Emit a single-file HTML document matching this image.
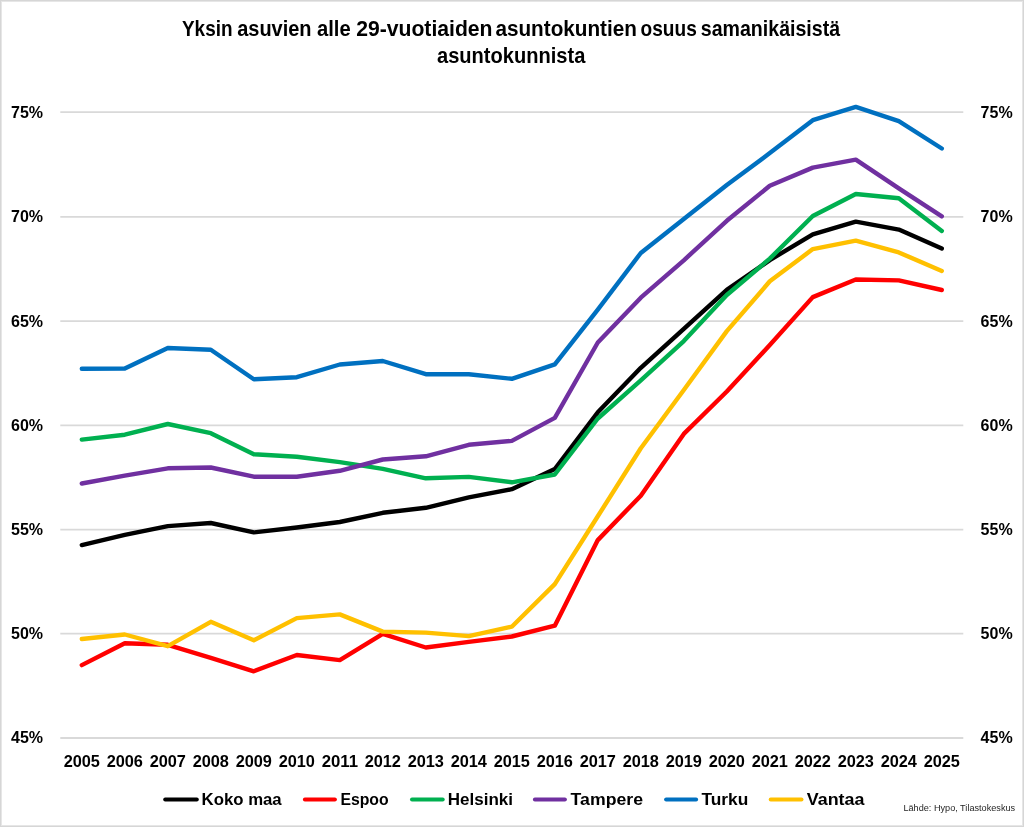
<!DOCTYPE html>
<html><head><meta charset="utf-8"><style>
html,body{margin:0;padding:0;background:#fff;width:1024px;height:827px;overflow:hidden}
svg{display:block;will-change:transform}
text{font-family:"Liberation Sans",sans-serif;fill:#000}
.ax{font-size:16px;font-weight:bold}
.lg{font-size:16.5px;font-weight:bold}
.tt{font-size:21.8px;font-weight:bold}
.src{font-size:9.5px;fill:#262626}
</style></head><body>
<svg width="1024" height="827" viewBox="0 0 1024 827">
<rect x="0" y="0" width="1024" height="827" fill="#fff"/>
<rect x="1.5" y="1.5" width="1021" height="824" fill="none" stroke="#e6e6e6" stroke-width="1"/>
<rect x="0.5" y="0.5" width="1023" height="826" fill="none" stroke="#d6d6d6" stroke-width="1"/>
<line x1="60.3" y1="112.20" x2="963.3" y2="112.20" stroke="#d9d9d9" stroke-width="1.8"/>
<line x1="60.3" y1="216.90" x2="963.3" y2="216.90" stroke="#d9d9d9" stroke-width="1.8"/>
<line x1="60.3" y1="321.20" x2="963.3" y2="321.20" stroke="#d9d9d9" stroke-width="1.8"/>
<line x1="60.3" y1="425.40" x2="963.3" y2="425.40" stroke="#d9d9d9" stroke-width="1.8"/>
<line x1="60.3" y1="529.60" x2="963.3" y2="529.60" stroke="#d9d9d9" stroke-width="1.8"/>
<line x1="60.3" y1="633.70" x2="963.3" y2="633.70" stroke="#d9d9d9" stroke-width="1.8"/>
<line x1="60.3" y1="738.00" x2="963.3" y2="738.00" stroke="#d9d9d9" stroke-width="1.8"/>
<text x="43.1" y="117.60" text-anchor="end" class="ax">75%</text>
<text x="980.6" y="117.60" class="ax">75%</text>
<text x="43.1" y="222.30" text-anchor="end" class="ax">70%</text>
<text x="980.6" y="222.30" class="ax">70%</text>
<text x="43.1" y="326.60" text-anchor="end" class="ax">65%</text>
<text x="980.6" y="326.60" class="ax">65%</text>
<text x="43.1" y="430.80" text-anchor="end" class="ax">60%</text>
<text x="980.6" y="430.80" class="ax">60%</text>
<text x="43.1" y="535.00" text-anchor="end" class="ax">55%</text>
<text x="980.6" y="535.00" class="ax">55%</text>
<text x="43.1" y="639.10" text-anchor="end" class="ax">50%</text>
<text x="980.6" y="639.10" class="ax">50%</text>
<text x="43.1" y="743.40" text-anchor="end" class="ax">45%</text>
<text x="980.6" y="743.40" class="ax">45%</text>
<text x="81.80" y="767.1" text-anchor="middle" class="ax" textLength="36.3" lengthAdjust="spacingAndGlyphs">2005</text>
<text x="124.80" y="767.1" text-anchor="middle" class="ax" textLength="36.3" lengthAdjust="spacingAndGlyphs">2006</text>
<text x="167.80" y="767.1" text-anchor="middle" class="ax" textLength="36.3" lengthAdjust="spacingAndGlyphs">2007</text>
<text x="210.80" y="767.1" text-anchor="middle" class="ax" textLength="36.3" lengthAdjust="spacingAndGlyphs">2008</text>
<text x="253.80" y="767.1" text-anchor="middle" class="ax" textLength="36.3" lengthAdjust="spacingAndGlyphs">2009</text>
<text x="296.80" y="767.1" text-anchor="middle" class="ax" textLength="36.3" lengthAdjust="spacingAndGlyphs">2010</text>
<text x="339.80" y="767.1" text-anchor="middle" class="ax" textLength="36.3" lengthAdjust="spacingAndGlyphs">2011</text>
<text x="382.80" y="767.1" text-anchor="middle" class="ax" textLength="36.3" lengthAdjust="spacingAndGlyphs">2012</text>
<text x="425.80" y="767.1" text-anchor="middle" class="ax" textLength="36.3" lengthAdjust="spacingAndGlyphs">2013</text>
<text x="468.80" y="767.1" text-anchor="middle" class="ax" textLength="36.3" lengthAdjust="spacingAndGlyphs">2014</text>
<text x="511.80" y="767.1" text-anchor="middle" class="ax" textLength="36.3" lengthAdjust="spacingAndGlyphs">2015</text>
<text x="554.80" y="767.1" text-anchor="middle" class="ax" textLength="36.3" lengthAdjust="spacingAndGlyphs">2016</text>
<text x="597.80" y="767.1" text-anchor="middle" class="ax" textLength="36.3" lengthAdjust="spacingAndGlyphs">2017</text>
<text x="640.80" y="767.1" text-anchor="middle" class="ax" textLength="36.3" lengthAdjust="spacingAndGlyphs">2018</text>
<text x="683.80" y="767.1" text-anchor="middle" class="ax" textLength="36.3" lengthAdjust="spacingAndGlyphs">2019</text>
<text x="726.80" y="767.1" text-anchor="middle" class="ax" textLength="36.3" lengthAdjust="spacingAndGlyphs">2020</text>
<text x="769.80" y="767.1" text-anchor="middle" class="ax" textLength="36.3" lengthAdjust="spacingAndGlyphs">2021</text>
<text x="812.80" y="767.1" text-anchor="middle" class="ax" textLength="36.3" lengthAdjust="spacingAndGlyphs">2022</text>
<text x="855.80" y="767.1" text-anchor="middle" class="ax" textLength="36.3" lengthAdjust="spacingAndGlyphs">2023</text>
<text x="898.80" y="767.1" text-anchor="middle" class="ax" textLength="36.3" lengthAdjust="spacingAndGlyphs">2024</text>
<text x="941.80" y="767.1" text-anchor="middle" class="ax" textLength="36.3" lengthAdjust="spacingAndGlyphs">2025</text>
<polyline points="81.80,545.10 124.80,534.90 167.80,526.10 210.80,523.00 253.80,532.40 296.80,527.50 339.80,522.00 382.80,512.80 425.80,507.80 468.80,497.40 511.80,489.20 554.80,469.10 597.80,412.30 640.80,367.80 683.80,328.80 726.80,289.90 769.80,260.10 812.80,234.30 855.80,221.60 898.80,229.60 941.80,248.50" fill="none" stroke="#000000" stroke-width="4.4" stroke-linejoin="round" stroke-linecap="round"/>
<polyline points="81.80,665.10 124.80,643.30 167.80,644.80 210.80,657.90 253.80,671.30 296.80,655.00 339.80,660.10 382.80,633.90 425.80,647.50 468.80,641.90 511.80,636.50 554.80,625.70 597.80,540.10 640.80,495.70 683.80,433.90 726.80,391.50 769.80,345.10 812.80,297.10 855.80,279.50 898.80,280.40 941.80,290.00" fill="none" stroke="#FF0000" stroke-width="4.4" stroke-linejoin="round" stroke-linecap="round"/>
<polyline points="81.80,439.60 124.80,434.70 167.80,424.00 210.80,433.20 253.80,454.20 296.80,456.80 339.80,462.10 382.80,468.90 425.80,478.30 468.80,476.90 511.80,482.30 554.80,474.50 597.80,418.50 640.80,380.30 683.80,341.10 726.80,295.00 769.80,258.60 812.80,216.00 855.80,194.00 898.80,198.20 941.80,230.90" fill="none" stroke="#00B050" stroke-width="4.4" stroke-linejoin="round" stroke-linecap="round"/>
<polyline points="81.80,483.50 124.80,475.70 167.80,468.30 210.80,467.50 253.80,476.70 296.80,476.70 339.80,470.80 382.80,459.50 425.80,456.30 468.80,444.80 511.80,440.90 554.80,417.90 597.80,342.50 640.80,297.70 683.80,260.30 726.80,220.80 769.80,185.80 812.80,167.60 855.80,159.60 898.80,188.30 941.80,216.40" fill="none" stroke="#7030A0" stroke-width="4.4" stroke-linejoin="round" stroke-linecap="round"/>
<polyline points="81.80,368.70 124.80,368.60 167.80,348.00 210.80,349.80 253.80,379.30 296.80,377.20 339.80,364.50 382.80,361.00 425.80,374.20 468.80,374.30 511.80,378.80 554.80,364.30 597.80,309.60 640.80,253.00 683.80,219.00 726.80,185.10 769.80,153.10 812.80,120.20 855.80,106.90 898.80,121.20 941.80,148.50" fill="none" stroke="#0070C0" stroke-width="4.4" stroke-linejoin="round" stroke-linecap="round"/>
<polyline points="81.80,639.00 124.80,634.50 167.80,646.20 210.80,621.80 253.80,640.30 296.80,618.10 339.80,614.40 382.80,631.60 425.80,632.60 468.80,636.10 511.80,626.70 554.80,584.10 597.80,516.30 640.80,448.30 683.80,390.00 726.80,331.10 769.80,281.30 812.80,249.10 855.80,240.60 898.80,252.40 941.80,271.00" fill="none" stroke="#FFC000" stroke-width="4.4" stroke-linejoin="round" stroke-linecap="round"/>
<line x1="165.2" y1="799.5" x2="196.8" y2="799.5" stroke="#000000" stroke-width="4" stroke-linecap="round"/>
<text id="lk" x="201.60" y="805.20" class="lg" textLength="80.06" lengthAdjust="spacingAndGlyphs">Koko maa</text>
<line x1="304.9" y1="799.5" x2="334.9" y2="799.5" stroke="#FF0000" stroke-width="4" stroke-linecap="round"/>
<text id="le" x="340.40" y="805.20" class="lg" textLength="48.27" lengthAdjust="spacingAndGlyphs">Espoo</text>
<line x1="412.0" y1="799.5" x2="442.7" y2="799.5" stroke="#00B050" stroke-width="4" stroke-linecap="round"/>
<text id="lh" x="447.80" y="805.20" class="lg" textLength="65.21" lengthAdjust="spacingAndGlyphs">Helsinki</text>
<line x1="534.9" y1="799.5" x2="564.9" y2="799.5" stroke="#7030A0" stroke-width="4" stroke-linecap="round"/>
<text id="lt" x="570.60" y="805.20" class="lg" textLength="72.39" lengthAdjust="spacingAndGlyphs">Tampere</text>
<line x1="666.1" y1="799.5" x2="696.1" y2="799.5" stroke="#0070C0" stroke-width="4" stroke-linecap="round"/>
<text id="lu" x="701.40" y="805.20" class="lg" textLength="46.84" lengthAdjust="spacingAndGlyphs">Turku</text>
<line x1="770.7" y1="799.5" x2="801.5" y2="799.5" stroke="#FFC000" stroke-width="4" stroke-linecap="round"/>
<text id="lv" x="806.80" y="805.20" class="lg" textLength="57.62" lengthAdjust="spacingAndGlyphs">Vantaa</text>
<text id="t1_0" x="182.00" y="35.90" class="tt" textLength="50.48" lengthAdjust="spacingAndGlyphs">Yksin</text>
<text id="t1_1" x="237.20" y="35.90" class="tt" textLength="74.39" lengthAdjust="spacingAndGlyphs">asuvien</text>
<text id="t1_2" x="317.00" y="35.90" class="tt" textLength="33.69" lengthAdjust="spacingAndGlyphs">alle</text>
<text id="t1_3" x="356.20" y="35.90" class="tt" textLength="136.35" lengthAdjust="spacingAndGlyphs">29-vuotiaiden</text>
<text id="t1_4" x="495.40" y="35.90" class="tt" textLength="141.56" lengthAdjust="spacingAndGlyphs">asuntokuntien</text>
<text id="t1_5" x="640.60" y="35.90" class="tt" textLength="56.15" lengthAdjust="spacingAndGlyphs">osuus</text>
<text id="t1_6" x="700.80" y="35.90" class="tt" textLength="139.30" lengthAdjust="spacingAndGlyphs">samanikäisistä</text>
<text id="t2" x="437.00" y="63.10" class="tt" textLength="148.30" lengthAdjust="spacingAndGlyphs">asuntokunnista</text>
<text id="src" x="903.40" y="811.00" class="src" textLength="111.75" lengthAdjust="spacingAndGlyphs">Lähde: Hypo, Tilastokeskus</text>
</svg>
</body></html>
